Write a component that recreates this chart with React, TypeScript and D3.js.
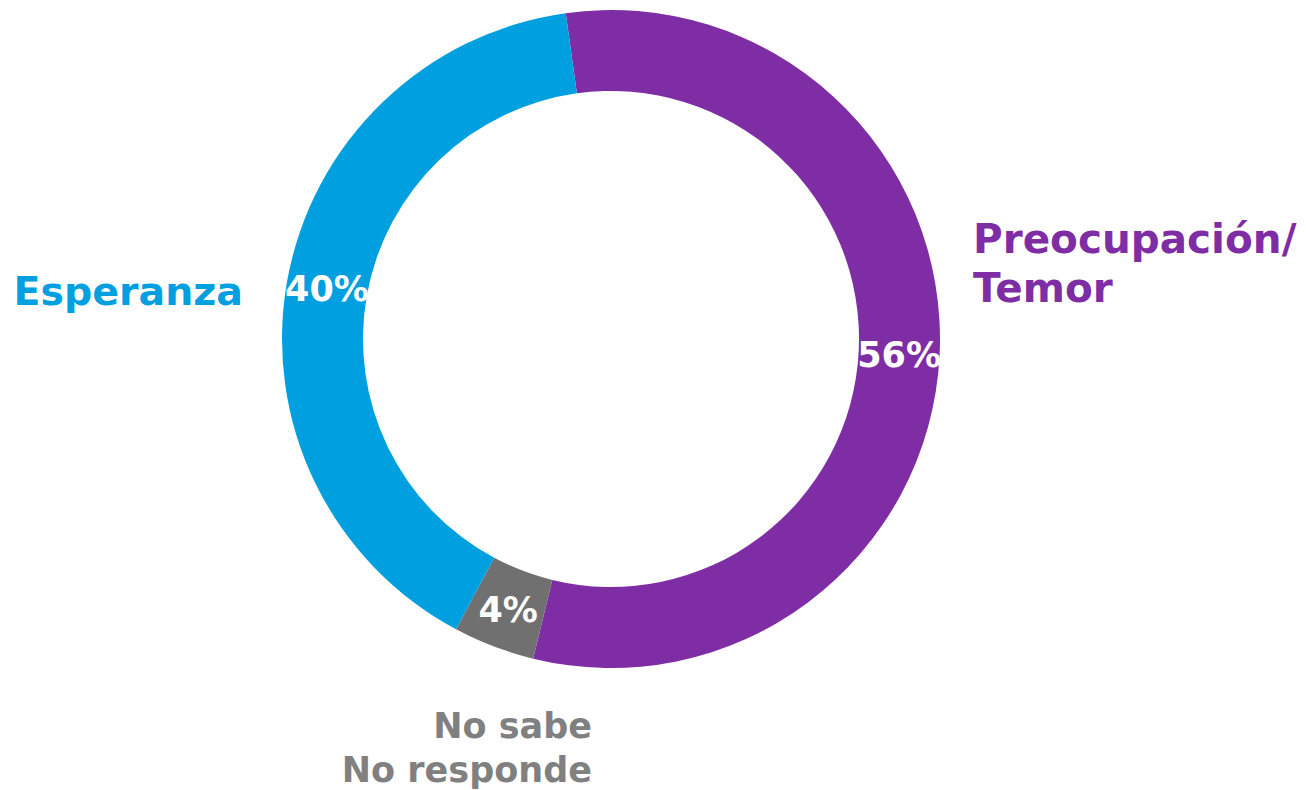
import React from "react";
import * as d3 from "d3";

const categories = ["Preocupación/Temor", "No sabe No responde", "Esperanza"];
const values = [56, 4, 40];
const valueLabels = ["56%", "4%", "40%"];
const colors = ["#7F2DA5", "#6F706F", "#00A0E0"];

const W = 1306;
const H = 790;
const cx = 611;
const cy = 339;
const outerR = 329;
const innerR = 248;
const startAngle = -0.138;
const FONT = "'DejaVu Sans', 'Open Sans', sans-serif";

export default function App() {
  const pie = d3
    .pie<number>()
    .sort(null)
    .value((d) => d)
    .startAngle(startAngle)
    .endAngle(startAngle + 2 * Math.PI);
  const arcs = pie(values);
  const arc = d3.arc<d3.PieArcDatum<number>>().innerRadius(innerR).outerRadius(outerR);

  return (
    <svg
      width={W}
      height={H}
      style={{ position: "absolute", left: 0, top: 0, background: "#fff" }}
    >
      <g transform={`translate(${cx},${cy})`}>
        {arcs.map((a, i) => (
          <path key={categories[i]} d={arc(a) || ""} fill={colors[i]} />
        ))}
        {arcs.map((a, i) => {
          const [x, y] = arc.centroid(a);
          return (
            <text
              key={"l" + i}
              x={x}
              y={y + 1}
              textAnchor="middle"
              dominantBaseline="central"
              fill="#fff"
              fontFamily={FONT}
              fontWeight="bold"
              fontSize={35}
            >
              {valueLabels[i]}
            </text>
          );
        })}
      </g>
      <text x={243} y={305} textAnchor="end" fill={colors[2]} fontFamily={FONT} fontWeight="bold" fontSize={39.5}>
        Esperanza
      </text>
      <text x={973} y={253} textAnchor="start" fill={colors[0]} fontFamily={FONT} fontWeight="bold" fontSize={40.5}>
        <tspan x={973}>Preocupación/</tspan>
        <tspan x={973} y={302}>Temor</tspan>
      </text>
      <text x={592} y={738} textAnchor="end" fill="#808080" fontFamily={FONT} fontWeight="bold" fontSize={35}>
        <tspan x={592}>No sabe</tspan>
        <tspan x={592} y={782}>No responde</tspan>
      </text>
    </svg>
  );
}
